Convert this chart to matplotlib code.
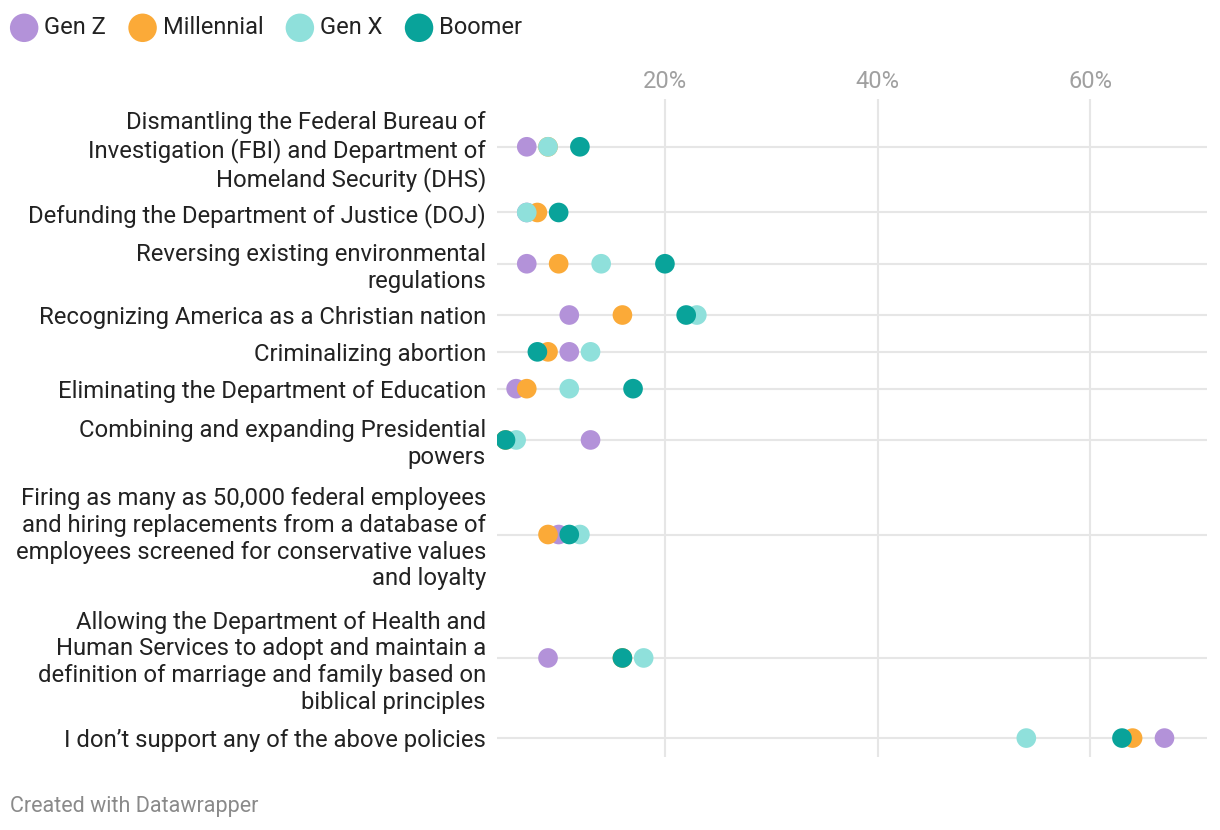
import matplotlib.pyplot as plt
import numpy as np

plt.rcParams['font.family'] = ['Roboto', 'DejaVu Sans']

policies = [
    "Dismantling the Federal Bureau of\nInvestigation (FBI) and Department of\nHomeland Security (DHS)",
    "Defunding the Department of Justice (DOJ)",
    "Reversing existing environmental\nregulations",
    "Recognizing America as a Christian nation",
    "Criminalizing abortion",
    "Eliminating the Department of Education",
    "Combining and expanding Presidential\npowers",
    "Firing as many as 50,000 federal employees\nand hiring replacements from a database of\nemployees screened for conservative values\nand loyalty",
    "Allowing the Department of Health and\nHuman Services to adopt and maintain a\ndefinition of marriage and family based on\nbiblical principles",
    "I don\u2019t support any of the above policies",
]

gen_z = [7, 7, 7, 11, 11, 6, 13, 10, 9, 67]
millennial = [9, 8, 10, 16, 9, 7, 5, 9, 16, 64]
gen_x = [9, 7, 14, 23, 13, 11, 6, 12, 18, 54]
boomer = [12, 10, 20, 22, 8, 17, 5, 11, 16, 63]

series = [("Gen Z", gen_z, "#b392d9"),
          ("Millennial", millennial, "#fbaa38"),
          ("Gen X", gen_x, "#8fe0db"),
          ("Boomer", boomer, "#09a39a")]

# row height depends on how many lines the label takes
lines = np.array([p.count("\n") + 1 for p in policies])
heights = lines * 29 + 8
bottoms = np.concatenate([[0], np.cumsum(heights)[:-1]])
ypos = bottoms + heights / 2
total = heights.sum()

fig = plt.figure(figsize=(12.2, 8.3), dpi=100)
ax = fig.add_axes([497 / 1220, 1 - 756.5 / 830, 710 / 1220, 657 / 830])

for y in ypos:
    ax.axhline(y, color="#e6e6e6", lw=1.5, zorder=1)

for name, vals, col in series:
    ax.scatter(vals, ypos, s=200, color=col, edgecolors="none", zorder=3, label=name)

ax.set_xlim(4.2, 71)
ax.set_ylim(total, 0)
ax.set_xticks([20, 40, 60])
ax.set_xticklabels(["20%", "40%", "60%"])
ax.xaxis.tick_top()
ax.tick_params(axis="x", length=0, pad=5, labelsize=17, labelcolor="#a0a0a0")
ax.grid(axis="x", color="#e6e6e6", lw=1.5, zorder=0)
ax.set_yticks(ypos)
ax.set_yticklabels(policies, fontsize=17.2, color="#222222", linespacing=1.2)
ax.tick_params(axis="y", length=0, pad=8)
for s in ax.spines.values():
    s.set_visible(False)

leg = fig.legend(loc="upper left", bbox_to_anchor=(10 / 1220, 1 - 16 / 830), ncol=4,
                 frameon=False, fontsize=17, handlelength=1.2, handletextpad=0.25,
                 columnspacing=0.95, markerscale=1.45, borderpad=0, borderaxespad=0)
for t in leg.get_texts():
    t.set_color("#222222")

fig.text(10 / 1220, 1 - 806 / 830, "Created with Datawrapper", fontsize=15.5,
         color="#8a8a8a", va="center")

fig.savefig("out.png", dpi=100)
